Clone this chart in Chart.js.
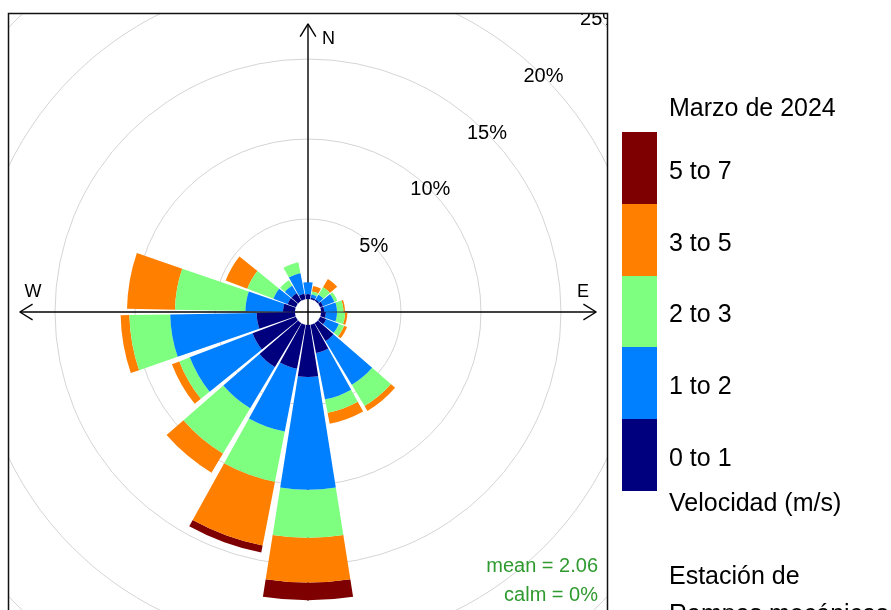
<!DOCTYPE html>
<html><head><meta charset="utf-8">
<script src="https://cdn.jsdelivr.net/npm/chart.js@4/dist/chart.umd.min.js"></script>
<style>html,body{margin:0;padding:0;background:#fff;overflow:hidden}#wrap{position:absolute;left:0;top:0;width:891px;height:610px}</style>
</head><body><div id="wrap"><canvas id="c" width="891" height="610"></canvas></div>
<script>
// Wind directions (degrees, centre of each 20° sector)
const directions = [0,20,40,60,80,100,120,140,160,180,200,220,240,260,280,300,320,340];
// Speed bins (m/s) and colours
const speedLabels = ['0 to 1','1 to 2','2 to 3','3 to 5','5 to 7'];
const speedColors = ['#00007F','#007FFF','#7FFF7F','#FF7F00','#7F0000'];
// Frequency (%) of each speed bin per direction
const freq0to1 = [0.3,0.1,0.1,0.2,0.2,0.3,0.4,1.3,1.8,3.25,2.8,3.2,2.9,2.4,0.75,0.55,0.55,0.35];
const freq1to2 = [0.75,0.2,0.35,0.75,0.8,0.7,0.85,3.2,2.95,7.05,4.0,3.0,4.2,5.4,2.35,0.95,0.55,1.3];
const freq2to3 = [0,0.2,0.55,0.2,0.4,0.5,0.35,1.55,0.85,3.0,3.2,3.3,0.7,2.55,4.4,1.75,0.4,0.7];
const freq3to5 = [0,0.35,0.6,0,0.1,0.15,0.2,0.35,0.7,2.8,4.05,1.4,0.5,0.55,3.0,1.45,0,0];
const freq5to7 = [0,0,0,0,0,0,0,0,0,1.1,0.45,0,0,0,0,0,0,0];
// Radial grid ticks (%)
const gridTicks = [5,10,15,20,25];
// Texts
const legendHeading = 'Marzo de 2024';
const legendFooter = 'Velocidad (m/s)';
const stationLines = ['Estación de','Rampas mecánicas'];
const meanText = 'mean = 2.06';
const calmText = 'calm = 0%';

const FONT = '"Liberation Sans", Arial, sans-serif';
const binSeries = [freq0to1, freq1to2, freq2to3, freq3to5, freq5to7];
const sectorDeg = 20, wedgeFrac = 0.9;
const wedgeDeg = sectorDeg * wedgeFrac, gapDeg = sectorDeg - wedgeDeg;

// cumulative stacks
const cumulative = [];
let run = directions.map(() => 0);
binSeries.forEach(s => { run = run.map((v, i) => +(v + s[i]).toFixed(3)); cumulative.push(run.slice()); });

const labels = [];
directions.forEach(d => { labels.push(d + '°'); labels.push(''); });
const expand = arr => arr.flatMap(v => [v, 0]);

const datasets = cumulative.map((c, k) => ({
  label: speedLabels[k],
  data: expand(c),
  backgroundColor: speedColors[k],
  borderWidth: 0,
  angle: ctx => (ctx.dataIndex % 2 === 0 ? wedgeDeg : gapDeg)
}));

const CX = 308, CY = 312;
const HOLE = 13, PX_PER_PCT = 16;
const rMin = -HOLE / PX_PER_PCT, rMax = 26;
const BOX = {l: 8, t: 13, r: 607, b: 614};

const windPlugin = {
  id: 'windrose',
  afterDatasetsUpdate(chart) {
    const s = chart.scales.r;
    chart.data.datasets.forEach((ds, k) => {
      const meta = chart.getDatasetMeta(k);
      meta.data.forEach((arc, j) => {
        const prev = k === 0 ? 0 : chart.data.datasets[k - 1].data[j];
        arc.innerRadius = s.getDistanceFromCenterForValue(prev);
      });
    });
  },
  beforeDraw(chart) {
    const ctx = chart.ctx;
    ctx.save();
    ctx.beginPath();
    ctx.rect(BOX.l, BOX.t, BOX.r - BOX.l, BOX.b - BOX.t);
    ctx.clip();
  },
  beforeDatasetsDraw(chart) {
    const ctx = chart.ctx, s = chart.scales.r;
    const L = s.getDistanceFromCenterForValue(17.2);
    ctx.save();
    ctx.strokeStyle = '#000';
    ctx.lineWidth = 1.4;
    const dirs = [[0,-1],[1,0],[0,1],[-1,0]];
    dirs.forEach(([dx, dy]) => {
      const tx = s.xCenter + dx * L, ty = s.yCenter + dy * L;
      ctx.beginPath();
      ctx.moveTo(s.xCenter, s.yCenter);
      ctx.lineTo(tx, ty);
      ctx.stroke();
      const ang = Math.atan2(dy, dx);
      [Math.PI - 0.55, Math.PI + 0.55].forEach(a => {
        ctx.beginPath();
        ctx.moveTo(tx, ty);
        ctx.lineTo(tx + 15 * Math.cos(ang + a), ty + 15 * Math.sin(ang + a));
        ctx.stroke();
      });
    });
    ctx.restore();
  },
  afterDatasetsDraw(chart) {
    const ctx = chart.ctx, s = chart.scales.r;
    ctx.save();
    ctx.fillStyle = '#000';
    ctx.font = '20px ' + FONT;
    ctx.textAlign = 'center';
    ctx.textBaseline = 'middle';
    gridTicks.forEach(v => {
      const r = s.getDistanceFromCenterForValue(v);
      ctx.fillText(v + '%', s.xCenter + r * Math.SQRT1_2, s.yCenter - r * Math.SQRT1_2);
    });
    ctx.font = '18px ' + FONT;
    ctx.textAlign = 'left';
    ctx.fillText('N', 322, 39);
    ctx.textAlign = 'center';
    ctx.fillText('W', 33, 292);
    ctx.fillText('E', 583, 292);
    ctx.fillStyle = '#2f9a2f';
    ctx.font = '20px ' + FONT;
    ctx.textAlign = 'right';
    ctx.fillText(meanText, 598, 566);
    ctx.fillText(calmText, 598, 595);
    ctx.restore();
  },
  afterDraw(chart) {
    const ctx = chart.ctx;
    ctx.restore();
    ctx.save();
    ctx.strokeStyle = '#111';
    ctx.lineWidth = 1.5;
    ctx.strokeRect(BOX.l + 0.5, BOX.t + 0.5, BOX.r - BOX.l, BOX.b - BOX.t);
    // legend colour bar
    const barX = 622, barW = 35, barTop = 132, segH = 71.8;
    const n = speedLabels.length;
    ctx.font = '25px ' + FONT;
    ctx.textBaseline = 'middle';
    ctx.textAlign = 'left';
    for (let i = 0; i < n; i++) {
      const k = n - 1 - i;
      const y0 = barTop + i * segH;
      ctx.fillStyle = speedColors[k];
      ctx.fillRect(barX, Math.round(y0), barW, Math.round(y0 + segH) - Math.round(y0));
      ctx.fillStyle = '#000';
      ctx.fillText(speedLabels[k], 669, y0 + segH / 2 + 4);
    }
    ctx.fillStyle = '#000';
    ctx.fillText(legendHeading, 669, 109);
    ctx.fillText(legendFooter, 669, 504);
    ctx.fillText(stationLines[0], 669, 577);
    ctx.fillText(stationLines[1], 669, 615);
    ctx.restore();
  }
};

new Chart(document.getElementById('c'), {
  type: 'polarArea',
  data: { labels, datasets },
  options: {
    responsive: false,
    devicePixelRatio: 1,
    animation: false,
    events: [],
    layout: { padding: 0 },
    plugins: { legend: { display: false }, tooltip: { enabled: false }, title: { display: false } },
    scales: {
      r: {
        min: rMin,
        max: rMax,
        startAngle: -wedgeDeg / 2,
        ticks: { display: false },
        grid: { color: '#d4d4d4', lineWidth: 1, circular: true },
        angleLines: { display: false },
        pointLabels: { display: false },
        afterBuildTicks: sc => { sc.ticks = gridTicks.map(v => ({ value: v })); },
        afterFit: sc => {
          sc.xCenter = CX; sc.yCenter = CY;
          sc.drawingArea = PX_PER_PCT * (rMax - rMin);
        }
      }
    }
  },
  plugins: [windPlugin]
});
</script>
</body></html>
